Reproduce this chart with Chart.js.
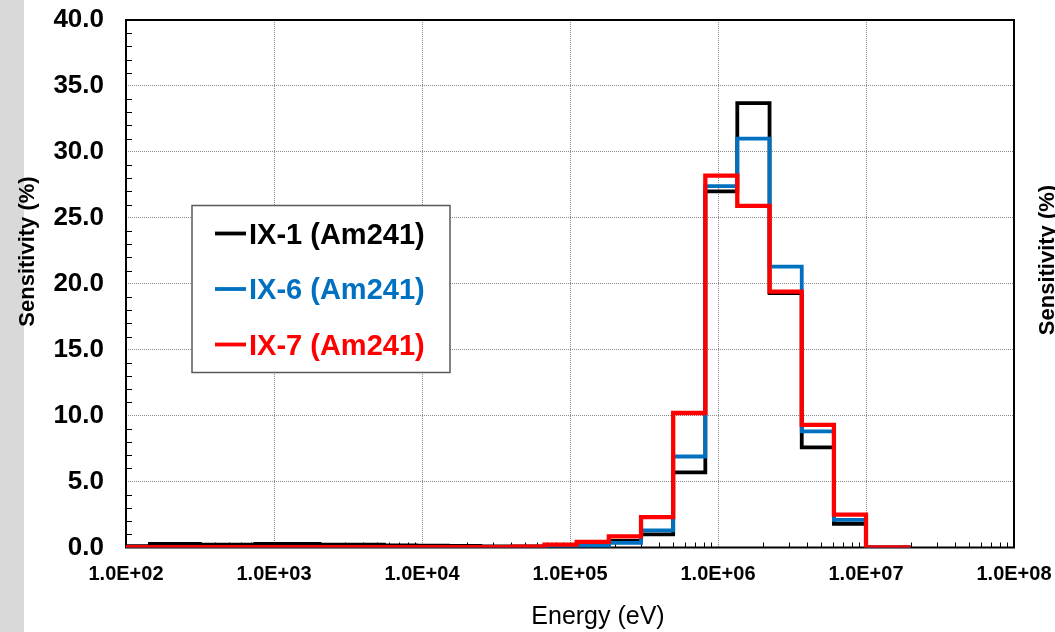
<!DOCTYPE html>
<html>
<head>
<meta charset="utf-8">
<script src="https://cdn.jsdelivr.net/npm/chart.js@4.4.1/dist/chart.umd.min.js"></script>
<style>
  html, body { margin: 0; padding: 0; background: #ffffff; }
  canvas { display: block; }
</style>
</head>
<body>
<canvas id="chart" width="1055" height="632"></canvas>
<script>
// Energy group boundaries (eV); above ~400 eV each group spans 0.5 in lethargy
const binEdges = [
  1.0e2, 1.45e2, 3.16e2, 4.54e2, 7.48e2, 1.23e3, 2.03e3, 3.35e3, 5.53e3,
  9.12e3, 1.50e4, 2.48e4, 4.09e4, 6.74e4, 1.11e5, 1.83e5, 3.02e5, 4.98e5,
  8.21e5, 1.35e6, 2.23e6, 3.68e6, 6.07e6, 1.0e7, 2.0e7
];

// Sensitivity per energy group (%), one value per group
const ix1 = [
  0.10, 0.28, 0.22, 0.22, 0.28, 0.28, 0.22, 0.22, 0.16, 0.14, 0.12, 0.08,
  0.08, 0.15, 0.22, 0.50, 1.0, 5.7, 27.0, 33.7, 19.3, 7.6, 1.8, 0.0
];
const ix6 = [
  0.02, 0.02, 0.02, 0.02, 0.02, 0.02, 0.02, 0.02, 0.02, 0.02, 0.02, 0.02,
  0.03, 0.05, 0.12, 0.35, 1.3, 6.9, 27.4, 31.0, 21.3, 8.8, 2.1, 0.0
];
const ix7 = [
  0.02, 0.02, 0.02, 0.02, 0.02, 0.02, 0.02, 0.02, 0.02, 0.02, 0.02, 0.03,
  0.06, 0.22, 0.42, 0.85, 2.3, 10.2, 28.2, 25.9, 19.4, 9.3, 2.5, 0.0
];

const seriesNames = ['IX-1 (Am241)', 'IX-6 (Am241)', 'IX-7 (Am241)'];
const seriesColors = ['#000000', '#0070c0', '#ff0000'];

const xTickValues = [1e2, 1e3, 1e4, 1e5, 1e6, 1e7, 1e8];
const xTickLabels = ['1.0E+02', '1.0E+03', '1.0E+04', '1.0E+05', '1.0E+06', '1.0E+07', '1.0E+08'];

const xTitle = 'Energy (eV)';
const yTitle = 'Sensitivity (%)';

const FONT = "'Liberation Sans', Arial, Helvetica, sans-serif";

// Histogram outline: each group value held from its lower edge to the next edge
function stepPoints(values) {
  const pts = values.map((v, i) => ({ x: binEdges[i], y: v }));
  pts.push({ x: binEdges[binEdges.length - 1], y: values[values.length - 1] });
  return pts;
}

// keep the plot area fixed: tick labels may overhang it
function noOverhang(s) {
  s.paddingTop = 0; s.paddingBottom = 0; s.paddingLeft = 0; s.paddingRight = 0;
}

const decorations = {
  id: 'decorations',
  beforeDraw(chart) {
    const ctx = chart.ctx;
    ctx.save();
    ctx.fillStyle = '#ffffff';
    ctx.fillRect(0, 0, chart.width, chart.height);
    ctx.fillStyle = '#d9d9d9';
    ctx.fillRect(0, 0, 24, chart.height);
    ctx.restore();
  },
  beforeDatasetsDraw(chart) {
    const { ctx, chartArea: a, scales } = chart;
    ctx.save();
    // inward minor ticks
    ctx.strokeStyle = '#000000';
    ctx.lineWidth = 1;
    ctx.beginPath();
    for (let k = 2; k < 8; k++) {
      for (let m = 2; m <= 9; m++) {
        const px = Math.round(scales.x.getPixelForValue(m * Math.pow(10, k))) + 0.5;
        ctx.moveTo(px, a.bottom);
        ctx.lineTo(px, a.bottom - 5);
      }
    }
    for (let v = 1; v < 40; v++) {
      if (v % 5 === 0) continue;
      const py = Math.round(scales.y.getPixelForValue(v)) + 0.5;
      ctx.moveTo(a.left, py);
      ctx.lineTo(a.left + 6, py);
    }
    ctx.stroke();
    // plot frame
    ctx.lineWidth = 2;
    ctx.strokeStyle = '#000000';
    ctx.strokeRect(a.left, a.top, a.right - a.left, a.bottom - a.top);
    ctx.restore();
  },
  afterDraw(chart) {
    const ctx = chart.ctx;
    ctx.save();
    ctx.fillStyle = '#000000';

    // y axis title, and the one of the neighbouring panel at the right edge
    ctx.font = 'bold 22px ' + FONT;
    ctx.textAlign = 'center';
    ctx.textBaseline = 'alphabetic';
    ctx.save();
    ctx.translate(33.5, 251.5);
    ctx.rotate(-Math.PI / 2);
    ctx.fillText(yTitle, 0, 0);
    ctx.restore();
    ctx.save();
    ctx.translate(1054, 260);
    ctx.rotate(-Math.PI / 2);
    ctx.fillText(yTitle, 0, 0);
    ctx.restore();

    // x axis title
    ctx.font = '25px ' + FONT;
    ctx.fillText(xTitle, 598, 624);

    // legend box
    const box = { x: 192, y: 205.5, w: 258, h: 167 };
    ctx.fillStyle = '#ffffff';
    ctx.fillRect(box.x, box.y, box.w, box.h);
    ctx.strokeStyle = '#595959';
    ctx.lineWidth = 1.5;
    ctx.strokeRect(box.x, box.y, box.w, box.h);
    ctx.font = 'bold 29px ' + FONT;
    ctx.textAlign = 'left';
    seriesNames.forEach((name, i) => {
      const cy = 233.5 + i * 55.5;
      ctx.strokeStyle = seriesColors[i];
      ctx.lineWidth = 3.8;
      ctx.beginPath();
      ctx.moveTo(215, cy);
      ctx.lineTo(246, cy);
      ctx.stroke();
      ctx.fillStyle = seriesColors[i];
      ctx.fillText(name, 249, cy + 10.4);
    });
    ctx.restore();
  }
};

const seriesValues = [ix1, ix6, ix7];
const lineWidths = [3.8, 3.8, 4.3];

new Chart(document.getElementById('chart'), {
  type: 'line',
  data: {
    datasets: seriesValues.map((vals, i) => ({
      label: seriesNames[i],
      data: stepPoints(vals),
      borderColor: seriesColors[i],
      backgroundColor: seriesColors[i],
      borderWidth: lineWidths[i],
      stepped: true,
      pointRadius: 0,
      fill: false,
      order: seriesValues.length - i
    }))
  },
  options: {
    responsive: false,
    animation: false,
    devicePixelRatio: 1,
    layout: { padding: { top: 20, right: 41, left: 0, bottom: 0 } },
    plugins: { legend: { display: false }, tooltip: { enabled: false } },
    scales: {
      x: {
        type: 'logarithmic',
        min: 1e2,
        max: 1e8,
        afterBuildTicks: (s) => { s.ticks = xTickValues.map(v => ({ value: v })); },
        afterFit: (s) => { s.height = 632 - 547.5; noOverhang(s); },
        grid: { color: '#8a8a8a', lineWidth: 1, drawTicks: false },
        border: { display: false, dash: [1, 1] },
        ticks: {
          autoSkip: false,
          maxRotation: 0,
          padding: 15,
          color: '#000000',
          font: { family: FONT, size: 20, weight: 'bold' },
          callback: (v, idx) => xTickLabels[idx]
        }
      },
      y: {
        min: 0,
        max: 40,
        afterFit: (s) => { s.width = 126; noOverhang(s); },
        grid: { color: '#8a8a8a', lineWidth: 1, drawTicks: false },
        border: { display: false, dash: [1, 1] },
        ticks: {
          stepSize: 5,
          padding: 22,
          color: '#000000',
          font: { family: FONT, size: 26, weight: 'bold' },
          callback: (v) => Number(v).toFixed(1)
        }
      }
    }
  },
  plugins: [decorations]
});
</script>
</body>
</html>
